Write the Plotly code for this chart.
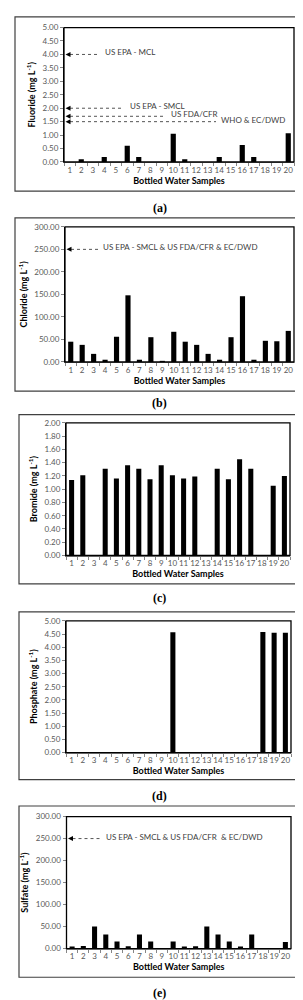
import plotly.graph_objects as go

# ---------------- data ----------------
samples = [str(i) for i in range(1, 21)]

fluoride = [0, 0.10, 0, 0.19, 0, 0.60, 0.19, 0, 0, 1.05,
            0.10, 0, 0, 0.19, 0, 0.63, 0.19, 0, 0, 1.07]
chloride = [45, 38, 18, 5, 56, 148, 5, 55, 2, 67,
            45, 38, 18, 5, 55, 146, 5, 47, 46, 69]
bromide = [1.14, 1.21, 0, 1.31, 1.16, 1.36, 1.31, 1.15, 1.36, 1.21,
           1.16, 1.19, 0, 1.31, 1.15, 1.45, 1.31, 0, 1.05, 1.20]
phosphate = [0, 0, 0, 0, 0, 0, 0, 0, 0, 4.57,
             0, 0, 0, 0, 0, 0, 0, 4.58, 4.55, 4.55]
sulfate = [4, 6, 50, 32, 16, 5, 32, 16, 0, 16,
           4, 5, 50, 32, 16, 4, 32, 0, 0, 15]

fluoride_limits = [4.0, 2.0, 1.7, 1.5]
fluoride_limit_labels = ["US EPA - MCL", "US EPA - SMCL", "US FDA/CFR", "WHO & EC/DWD"]
chloride_limits = [250.0]
chloride_limit_labels = ["US EPA - SMCL & US FDA/CFR & EC/DWD"]
bromide_limits = []
bromide_limit_labels = []
phosphate_limits = []
phosphate_limit_labels = []
sulfate_limits = [250.0]
sulfate_limit_labels = ["US EPA - SMCL & US FDA/CFR  & EC/DWD"]

y_titles = ["Fluoride (mg L<sup>-1</sup>)", "Chloride (mg L<sup>-1</sup>)",
            "Bromide (mg L<sup>-1</sup>)", "Phosphate (mg L<sup>-1</sup>)",
            "Sulfate (mg L<sup>-1</sup>)"]
y_max = [5.0, 300.0, 2.0, 5.0, 300.0]
y_step = [0.5, 50.0, 0.2, 0.5, 50.0]
captions = ["(a)", "(b)", "(c)", "(d)", "(e)"]
x_title = "Bottled Water Samples"

series = [fluoride, chloride, bromide, phosphate, sulfate]
limits = [fluoride_limits, chloride_limits, bromide_limits, phosphate_limits, sulfate_limits]
limit_labels = [fluoride_limit_labels, chloride_limit_labels, bromide_limit_labels,
                phosphate_limit_labels, sulfate_limit_labels]

# ---------------- layout geometry (pixels) ----------------
W, H = 303, 1000
panels = [
    dict(box=(7, 4, 298, 180), plot=(56, 14.7, 286, 150.5), cap=197,
         arrows=[(92, 95), (115, 120), (157, 161), (208, 211)]),
    dict(box=(7, 207, 298, 382), plot=(57, 216, 286, 352.5), cap=394,
         arrows=[(90, 93)]),
    dict(box=(11, 405.7, 294, 576.7), plot=(58, 414, 282, 548), cap=591,
         arrows=[]),
    dict(box=(11, 605, 294, 774.3), plot=(58, 614, 283, 747), cap=791,
         arrows=[]),
    dict(box=(11, 801, 294, 974), plot=(58.5, 811.7, 283, 945), cap=990,
         arrows=[(93, 96)]),
]


def px(x):
    return x / W


def py(y):
    return 1 - y / H


TICK_FONT = dict(family="Lato, Open Sans, sans-serif", size=8, color="#595959")
TITLE_FONT = dict(family="Lato, Open Sans, sans-serif", size=9, color="#000000")
GRAY = "#868686"

fig = go.Figure()
shapes = []
annotations = []

for i, p in enumerate(panels):
    n = i + 1
    xa = "x" if n == 1 else f"x{n}"
    ya = "y" if n == 1 else f"y{n}"
    xl = "xaxis" if n == 1 else f"xaxis{n}"
    yl = "yaxis" if n == 1 else f"yaxis{n}"
    x0, y0, x1, y1 = p["plot"]

    fig.add_trace(go.Bar(x=samples, y=series[i], marker_color="#000000",
                         marker_line_width=0, width=0.45,
                         xaxis=xa, yaxis=ya, showlegend=False))

    fig.layout[xl] = dict(domain=[px(x0), px(x1)], anchor=ya, type="category",
                          range=[-0.5, 19.5], tickson="boundaries", tickangle=0,
                          ticks="outside", ticklen=3, tickcolor=GRAY,
                          showline=True, linecolor=GRAY, linewidth=1,
                          tickfont=TICK_FONT, showgrid=False, zeroline=False,
                          title=dict(text=f"<b>{x_title}</b>", font=TITLE_FONT,
                                     standoff=2),
                          fixedrange=True)
    fig.layout[yl] = dict(domain=[py(y1), py(y0)], anchor=xa,
                          range=[0, y_max[i]], dtick=y_step[i], tick0=0,
                          tickformat=".2f", ticks="outside", ticklen=3,
                          tickcolor=GRAY, showline=True, linecolor="#000000",
                          linewidth=1, tickfont=TICK_FONT, showgrid=False,
                          zeroline=False,
                          title=dict(text=f"<b>{y_titles[i]}</b>", font=TITLE_FONT,
                                     standoff=5),
                          fixedrange=True)

    # plot-area frame
    shapes.append(dict(type="rect", xref="paper", yref="paper",
                       x0=px(x0), x1=px(x1), y0=py(y1), y1=py(y0),
                       line=dict(color="#000000", width=1.3), layer="above"))
    # outer chart border
    bx0, by0, bx1, by1 = p["box"]
    shapes.append(dict(type="rect", xref="paper", yref="paper",
                       x0=px(bx0), x1=px(bx1), y0=py(by1), y1=py(by0),
                       line=dict(color="#404040", width=1.2)))

    # caption
    annotations.append(dict(xref="paper", yref="paper", x=px(151.5), y=py(p["cap"]),
                            text=f"<b>{captions[i]}</b>", showarrow=False,
                            font=dict(family="Liberation Serif, serif", size=12, color="#000"),
                            xanchor="center", yanchor="middle"))

    # regulatory limit arrows
    for (tail, tx), val, lab in zip(p["arrows"], limits[i], limit_labels[i]):
        shapes.append(dict(type="line", xref="paper", yref=ya,
                           x0=px(x0 + 6), x1=px(tail), y0=val, y1=val,
                           line=dict(color="#555555", width=1, dash="dot")))
        shapes.append(dict(type="path", xref="paper", yref=ya,
                           xsizemode="pixel", ysizemode="pixel",
                           xanchor=px(x0), yanchor=val,
                           path="M 1.5,0 L 6.5,2.5 L 6.5,-2.5 Z",
                           fillcolor="#000000", line=dict(width=0)))
        annotations.append(dict(xref="paper", yref=ya, x=px(tx), y=val,
                                text=lab, showarrow=False, xanchor="left",
                                yanchor="middle", yshift=2,
                                font=dict(family="Lato, Open Sans, sans-serif",
                                          size=8, color="#404040")))

fig.update_layout(width=W, height=H, margin=dict(l=0, r=0, t=0, b=0),
                  paper_bgcolor="white", plot_bgcolor="white",
                  shapes=shapes, annotations=annotations, bargap=0.55)

fig.write_html("out.html")
